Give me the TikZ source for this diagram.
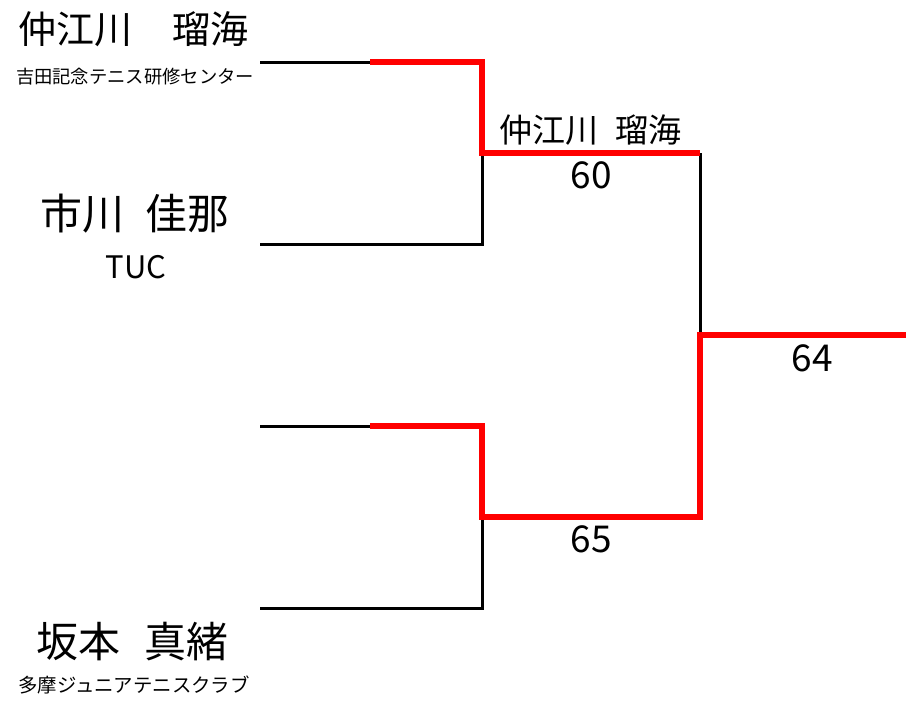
\documentclass[tikz,border=0pt]{standalone}
\usepackage{fontspec}
\setmainfont{Noto Sans CJK JP}
\newcommand{\fsz}[1]{\fontsize{#1}{#1}\selectfont}
\tikzset{
  blk/.style={line width=3pt, black},
  redl/.style={line width=5.5pt, red, line join=miter},
  lbl/.style={inner sep=0pt, anchor=center, text=black},
}
\begin{document}
\begin{tikzpicture}[x=1pt,y=-1pt]
\useasboundingbox[fill=white] (0,0) rectangle (906,702);
% coordinates
\coordinate (a0) at (260,62);  \coordinate (a1) at (370,62);  \coordinate (a2) at (482,62);
\coordinate (b0) at (260,244); \coordinate (b1) at (482,244);
\coordinate (m1) at (482,153); \coordinate (m2) at (700,153);
\coordinate (c0) at (260,426); \coordinate (c1) at (370,426); \coordinate (c2) at (482,426);
\coordinate (d0) at (260,608); \coordinate (d1) at (482,608);
\coordinate (n1) at (482,517); \coordinate (n2) at (700,517);
\coordinate (f1) at (700,335); \coordinate (f2) at (906,335);
% black lines
\draw[blk] (a0) -- (a1);
\draw[blk] (m1) -- (b1) -- (b0);
\draw[blk] (m2) -- (f1);
\draw[blk] (c0) -- (c1);
\draw[blk] (n1) -- (d1) -- (d0);
% red lines
\draw[redl] (a1) -- (a2) -- (m1) -- (m2);
\draw[redl] (c1) -- (c2) -- (n1) -- (n2) -- (f1) -- (f2);
% texts
\node[lbl] (p1) at (133.5,29) {\fsz{38}仲江川\hspace{1.05em}瑠海};
\node[lbl] (p1c) at (135,76.5) {\fsz{18.3}吉田記念テニス研修センター};
\node[lbl] (p2) at (135,214) {\fsz{42}市川\hspace{0.48em}佳那};
\node[lbl] (p2c) at (136,267) {\fsz{31}TUC};
\node[lbl] (p4) at (132.5,642) {\fsz{42}坂本\hspace{0.56em}真緒};
\node[lbl] (p4c) at (134,684.5) {\fsz{19.4}多摩ジュニアテニスクラブ};
\node[lbl] (w1) at (590.5,130) {\fsz{33}仲江川\hspace{0.5em}瑠海};
\node[lbl] (s1) at (591,175.5) {\fsz{37}60};
\node[lbl] (s2) at (591,539.5) {\fsz{37}65};
\node[lbl] (s3) at (812,358) {\fsz{37}64};
\end{tikzpicture}
\end{document}
